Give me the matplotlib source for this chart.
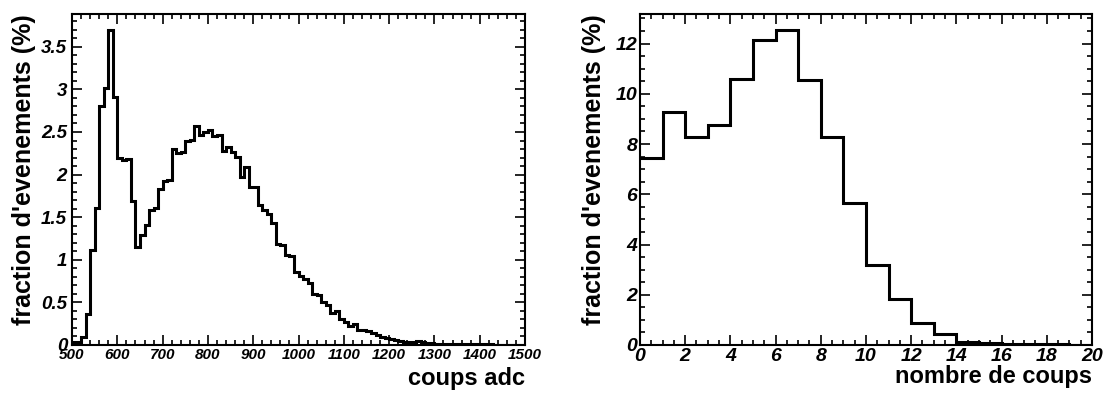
import numpy as np
import matplotlib
matplotlib.use("Agg")
from matplotlib import pyplot as plt
from matplotlib.ticker import MultipleLocator

# ADC spectrum, bins of 10 from 500 to 1500 (percent of events)
adc_edges = np.arange(500, 1510, 10)
adc_frac = [0.03, 0.04, 0.09, 0.36, 1.11, 1.61, 2.81, 3.02, 3.70, 2.91,
            2.19, 2.17, 2.18, 1.69, 1.15, 1.29, 1.41, 1.59, 1.61, 1.83,
            1.92, 1.94, 2.30, 2.25, 2.27, 2.39, 2.41, 2.57, 2.47, 2.50,
            2.52, 2.45, 2.47, 2.28, 2.32, 2.26, 2.21, 1.97, 2.09, 1.86,
            1.85, 1.64, 1.58, 1.54, 1.43, 1.19, 1.17, 1.06, 1.05, 0.86,
            0.81, 0.77, 0.73, 0.60, 0.59, 0.50, 0.47, 0.37, 0.40, 0.31,
            0.27, 0.22, 0.25, 0.18, 0.18, 0.17, 0.14, 0.12, 0.09, 0.08,
            0.07, 0.06, 0.05, 0.04, 0.03, 0.04, 0.05, 0.03, 0.02, 0.02,
            0.015, 0.015, 0.015, 0.012, 0.012, 0.01, 0.01, 0.01, 0.01, 0.008,
            0.008, 0.006, 0.006, 0.005, 0.005, 0.004, 0.004, 0.003, 0.003, 0.002]

# number of hits, bins of 1 from 0 to 20
hit_edges = np.arange(0, 21, 1)
hit_frac = [7.46, 9.27, 8.27, 8.74, 10.60, 12.15, 12.55, 10.56, 8.29, 5.67,
            3.19, 1.82, 0.89, 0.42, 0.13, 0.07, 0.05, 0.03, 0.02, 0.01]

ylabel = "fraction d'evenements (%)"

plt.rcParams['font.family'] = ['Liberation Sans', 'DejaVu Sans']

fig = plt.figure(figsize=(11.03, 3.95), dpi=100)
ax1 = fig.add_axes([0.0653, 0.1266, 0.4107, 0.838])
ax2 = fig.add_axes([0.5802, 0.1266, 0.4098, 0.838])


def style(ax, xmaj, xmin, ymaj, ymin, xsize, ysize, ypad):
    for s in ax.spines.values():
        s.set_linewidth(1.5)
    ax.xaxis.set_major_locator(MultipleLocator(xmaj))
    ax.xaxis.set_minor_locator(MultipleLocator(xmin))
    ax.yaxis.set_major_locator(MultipleLocator(ymaj))
    ax.yaxis.set_minor_locator(MultipleLocator(ymin))
    ax.tick_params(which='both', direction='in', top=True, right=True, width=1.2)
    ax.tick_params(which='major', length=7)
    ax.tick_params(which='minor', length=3.5)
    ax.tick_params(axis='x', pad=2, labelsize=xsize)
    ax.tick_params(axis='y', pad=ypad, labelsize=ysize)


def italic_ticks(ax):
    for lab in ax.get_xticklabels() + ax.get_yticklabels():
        lab.set_fontweight('bold')
        lab.set_fontstyle('italic')


ax1.stairs(adc_frac, adc_edges, color='black', lw=2.2, baseline=None)
ax1.set_xlim(500, 1500)
ax1.set_ylim(0, max(adc_frac) * 1.05)
style(ax1, 100, 20, 0.5, 0.1, 11, 13.5, 3.5)
ax1.yaxis.set_major_formatter(lambda v, p: '{:g}'.format(round(v, 2)))
italic_ticks(ax1)
ax1.set_xlabel("coups adc", loc='right', fontsize=17, fontweight='bold', labelpad=4)
ax1.set_ylabel(ylabel, loc='top', fontsize=18, fontweight='bold', labelpad=4)

ax2.stairs(hit_frac, hit_edges, color='black', lw=2.2, baseline=None)
ax2.set_xlim(0, 20)
ax2.set_ylim(0, max(hit_frac) * 1.05)
style(ax2, 2, 0.5, 2, 0.5, 14, 14, 2)
italic_ticks(ax2)
ax2.set_xlabel("nombre de coups", loc='right', fontsize=17, fontweight='bold', labelpad=0)
ax2.set_ylabel(ylabel, loc='top', fontsize=18, fontweight='bold', labelpad=7)

fig.savefig("out.png", dpi=100)
